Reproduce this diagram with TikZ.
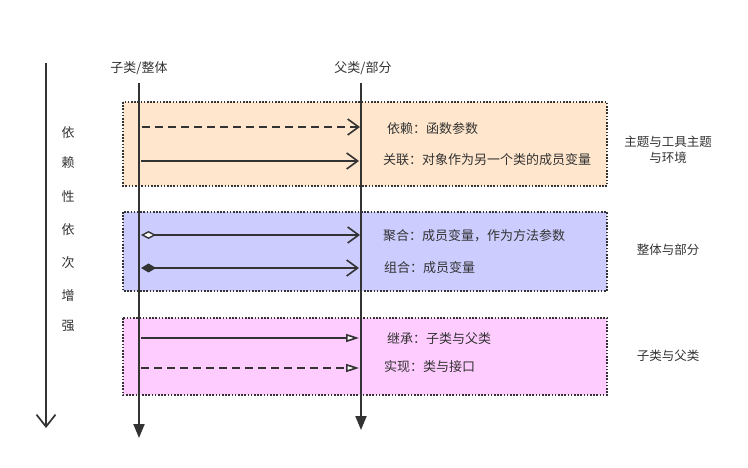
\documentclass[tikz,border=0pt]{standalone}
\usepackage{fontspec}
\setmainfont{Noto Sans CJK SC}
\usetikzlibrary{arrows.meta}
\definecolor{ink}{HTML}{333333}
\definecolor{peach}{HTML}{FFE6CC}
\definecolor{lav}{HTML}{CCCCFF}
\definecolor{pink}{HTML}{FFCCFF}
\tikzset{
  lbl/.style={font=\fontsize{13}{15}\selectfont, text=ink, inner sep=0pt, anchor=west},
  grp/.style={font=\fontsize{12.5}{16}\selectfont, text=ink, align=center, inner sep=0pt},
  band/.style={draw=ink, line width=1.6pt, dash pattern=on 1.6pt off 1.6pt},
  life/.style={draw=ink, line width=2pt},
  rel/.style={draw=ink, line width=1.7pt},
  dsh/.style={dash pattern=on 8pt off 5pt},
  ch/.style={font=\fontsize{13}{15}\selectfont, text=ink, inner sep=0pt}
}
\begin{document}
\begin{tikzpicture}[x=1pt,y=-1pt,
  vee/.tip={Straight Barb[length=11pt,width=16pt,line width=1.6pt]},
  htri/.tip={Triangle[open,fill=white,length=13pt,width=8pt,line width=1.6pt]},
  odia/.tip={Diamond[open,fill=white,length=15pt,width=8pt,line width=1.4pt]},
  fdia/.tip={Diamond[fill=ink,length=15pt,width=9pt]},
  ltri/.tip={Triangle[length=14pt,width=11pt]}]
\useasboundingbox (0,0) rectangle (748,468);
% bands
\path[band, fill=peach] (123,102) rectangle (607,186);
\path[band, fill=lav] (123,212) rectangle (607,291);
\path[band, fill=pink] (123,318) rectangle (607,395);
% lifeline heads
\node[ch] (h1) at (139,68) {子类/整体};
\node[ch] (h2) at (363,68) {父类/部分};
\coordinate (t1) at (139,83);
\coordinate (b1) at (139,438);
\coordinate (t2) at (361,83);
\coordinate (b2) at (361,430);
\draw[life, -ltri] (t1) -- (b1);
\draw[life, -ltri] (t2) -- (b2);
% left dependency arrow
\coordinate (d1) at (46,63);
\coordinate (d2) at (46,428);
\draw[draw=ink, line width=2pt, -{Straight Barb[length=12pt,width=19pt,line width=1.7pt]}] (d1) -- (d2);
\foreach \c/\y [count=\i] in {依/133,赖/163,性/197,依/230,次/263,增/296,强/326}
  \node[ch] (v\i) at (68,\y) {\c};
% relation endpoints
\coordinate (a1) at (142,127); \coordinate (e1) at (360,127);
\coordinate (a2) at (141,161); \coordinate (e2) at (359,161);
\coordinate (a3) at (141,235); \coordinate (e3) at (360,235);
\coordinate (a4) at (141,268); \coordinate (e4) at (359,268);
\coordinate (a5) at (141,338); \coordinate (e5) at (359,338);
\coordinate (a6) at (141,368); \coordinate (e6) at (359,368);
\draw[rel, -vee, dsh] (a1) -- (e1);
\draw[rel, -vee] (a2) -- (e2);
\draw[rel, odia-vee] (a3) -- (e3);
\draw[rel, fdia-vee] (a4) -- (e4);
\draw[rel, -htri] (a5) -- (e5);
\draw[rel, -htri, dsh] (a6) -- (e6);
% labels
\node[lbl] (l1) at (387,129) {依赖：函数参数};
\node[lbl] (l2) at (383,160) {关联：对象作为另一个类的成员变量};
\node[lbl] (l3) at (383,236) {聚合：成员变量，作为方法参数};
\node[lbl] (l4) at (384,268) {组合：成员变量};
\node[lbl] (l5) at (387,339) {继承：子类与父类};
\node[lbl] (l6) at (384,367) {实现：类与接口};
% group labels
\node[grp] (g1) at (668,150) {主题与工具主题\\与环境};
\node[grp] (g2) at (668,250) {整体与部分};
\node[grp] (g3) at (668,356) {子类与父类};
\end{tikzpicture}
\end{document}
